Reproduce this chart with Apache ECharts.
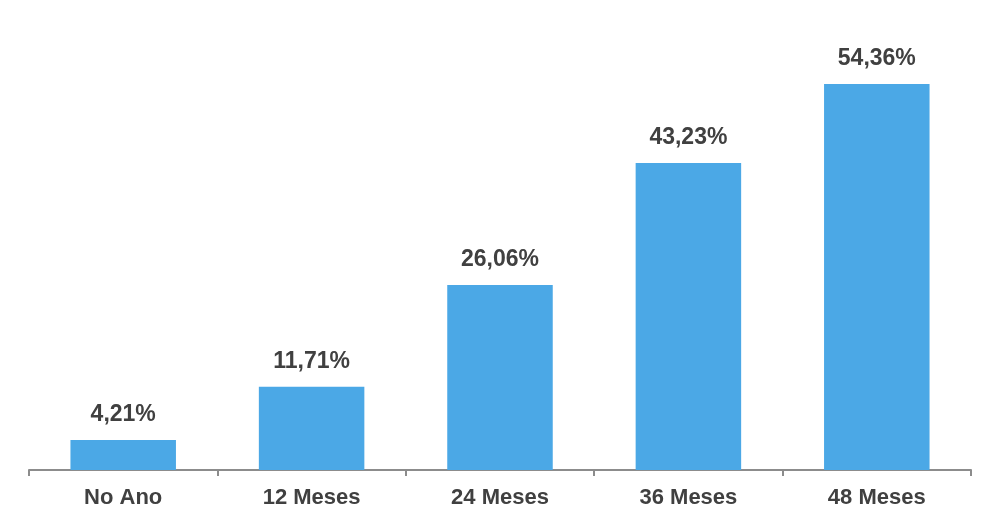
<!DOCTYPE html>
<html><head><meta charset="utf-8">
<script src="https://cdn.jsdelivr.net/npm/echarts@6/dist/echarts.min.js"></script>
<style>html,body{margin:0;padding:0;background:#fff}#c{width:999px;height:521px}</style>
</head><body><div id="c"></div>
<script>
const categories = ["No Ano", "12 Meses", "24 Meses", "36 Meses", "48 Meses"];
const values = [4.21, 11.71, 26.06, 43.23, 54.36];
const chart = echarts.init(document.getElementById('c'));
chart.setOption({
  animation: false,
  grid: {left: 29, right: 28, top: 44, bottom: 51},
  xAxis: {
    type: 'category', data: categories,
    axisLine: {lineStyle: {color: '#8c8c8c', width: 2}},
    axisTick: {show: true, length: 6, lineStyle: {color: '#8c8c8c', width: 2}},
    axisLabel: {margin: 17, color: '#404040', fontSize: 22, fontWeight: 'bold', fontFamily: 'Liberation Sans, Arial, sans-serif'}
  },
  yAxis: {type: 'value', min: 0, max: 60, show: false, splitLine: {show: false}},
  series: [{
    type: 'bar', data: values, barWidth: '56%',
    itemStyle: {color: '#4BA8E6'},
    label: {show: true, position: 'top', distance: 14, color: '#404040', fontSize: 23, fontWeight: 'bold',
      fontFamily: 'Liberation Sans, Arial, sans-serif',
      formatter: p => p.value.toFixed(2).replace('.', ',') + '%'}
  }]
});
</script></body></html>
